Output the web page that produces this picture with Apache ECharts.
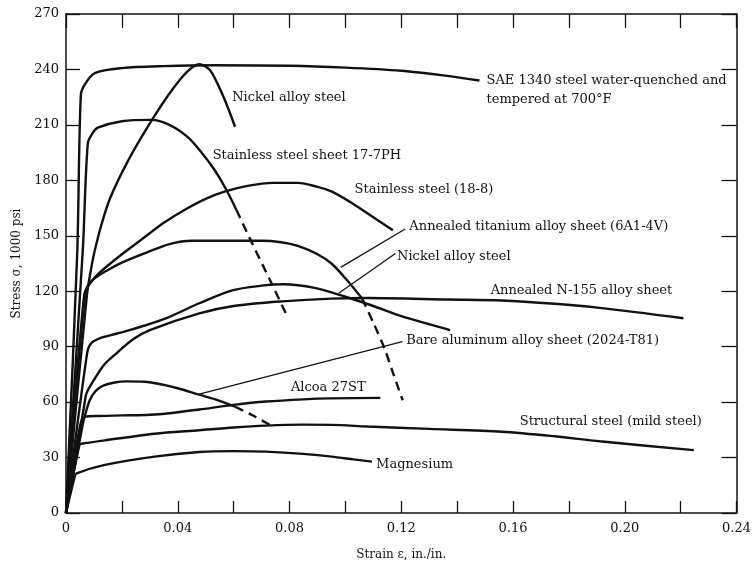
<!DOCTYPE html>
<html>
<head>
<meta charset="utf-8">
<script src="https://cdn.jsdelivr.net/npm/echarts@6/dist/echarts.min.js"></script>
<style>
html,body{margin:0;padding:0;background:#fff;}
#c{width:754px;height:566px;}
</style>
</head>
<body>
<div id="c"></div>
<script>
// ---- tick labels ----
const xTickLabels = ['0','','0.04','','0.08','','0.12','','0.16','','0.20','','0.24'];
const yTickLabels = ['0','30','60','90','120','150','180','210','240','270'];

// ---- series data [strain, stress(1000 psi)] ----
const sae1340 = [[0,0],[0.004,140],[0.0053,226],[0.0068,232],[0.0103,238],[0.02,240.7],[0.035,241.8],[0.053,242.3],[0.08,242],[0.1,241],[0.12,239.3],[0.135,236.8],[0.148,234]];
const nickelHigh = [[0,0],[0.0075,118],[0.0092,134],[0.0103,142],[0.0125,155],[0.0157,170],[0.022,190],[0.0305,212],[0.038,229],[0.0435,239],[0.0477,242.8],[0.0505,241],[0.0523,238],[0.0567,224],[0.0605,209]];
const ss177 = [[0,0],[0.006,142],[0.0078,200],[0.0095,205.5],[0.0114,208.5],[0.02,212],[0.0306,212.7],[0.037,210],[0.0435,203.5],[0.048,196],[0.053,186],[0.057,176],[0.061,164]];
const ss177Dash = [[0.061,164],[0.0666,146],[0.0727,127],[0.0787,108]];
const ss188 = [[0,0],[0.0065,118],[0.0085,124],[0.012,130],[0.02,140],[0.0275,148.5],[0.035,157],[0.043,164.5],[0.05,170],[0.057,174],[0.065,177],[0.074,178.6],[0.083,178.6],[0.09,176.5],[0.095,174],[0.102,168],[0.108,162],[0.112,158],[0.117,153]];
const titanium = [[0,0],[0.007,120],[0.0095,126],[0.015,131.5],[0.02,135.5],[0.029,141],[0.037,145.5],[0.045,147.3],[0.07,147.3],[0.077,146.5],[0.083,144.5],[0.09,140],[0.095,135],[0.1,127],[0.106,116]];
const titaniumDash = [[0.106,116],[0.11,103],[0.114,89],[0.117,76],[0.1205,61]];
const nickelLow = [[0,0],[0.0075,86],[0.0088,91.5],[0.012,94.5],[0.018,97],[0.024,99.5],[0.036,105.5],[0.0477,113.5],[0.0595,120.5],[0.07,123],[0.078,123.8],[0.089,121.8],[0.1,117],[0.11,112],[0.12,106.5],[0.1375,99]];
const n155 = [[0,0],[0.0065,58],[0.0074,65],[0.01,72],[0.0135,80],[0.017,85],[0.024,94],[0.03,99],[0.0477,108],[0.06,112],[0.0774,114.5],[0.095,116],[0.108,116.3],[0.137,115.5],[0.156,115],[0.175,113.2],[0.191,111],[0.221,105.4]];
const bareAl = [[0,0],[0.006,48],[0.0068,53],[0.0085,61],[0.0103,65.5],[0.013,68.7],[0.017,70.5],[0.0216,71.2],[0.028,71],[0.0335,69.8],[0.04,67.5],[0.0477,64],[0.0545,61],[0.0605,57.5]];
const bareAlDash = [[0.0605,57.5],[0.0666,53],[0.0737,47]];
const alcoa = [[0,0],[0.005,47],[0.0068,52],[0.012,52.5],[0.02,52.8],[0.03,53.2],[0.037,54],[0.0477,56],[0.06,58.5],[0.0716,60.3],[0.085,61.5],[0.095,62],[0.1125,62.3]];
const structural = [[0,0],[0.0048,37],[0.0056,37.5],[0.0139,39.3],[0.0317,42.9],[0.0477,44.8],[0.06,46.3],[0.0716,47.3],[0.085,47.8],[0.095,47.7],[0.108,46.8],[0.13,45.5],[0.156,44],[0.175,41.5],[0.191,38.8],[0.2247,34]];
const magnesium = [[0,0],[0.0032,20],[0.0038,21.5],[0.0139,26],[0.0317,30.5],[0.0477,33],[0.06,33.5],[0.0716,33.2],[0.085,32],[0.095,30.5],[0.103,29],[0.1095,27.8]];

// ---- leader lines (data coords) ----
const leaderTitanium = [[0.1214,153.7],[0.0983,132.9]];
const leaderNickelLow = [[0.1179,140.4],[0.0976,118.9]];
const leaderBareAl = [[0.1204,92.7],[0.0477,64.3]];

// ---- annotation texts and anchors (left edge, vertical middle) ----
const labelTexts = ['Nickel alloy steel','SAE 1340 steel water-quenched and\ntempered at 700°F','Stainless steel sheet 17-7PH','Stainless steel (18-8)','Annealed titanium alloy sheet (6A1-4V)','Nickel alloy steel','Annealed N-155 alloy sheet','Bare aluminum alloy sheet (2024-T81)','Alcoa 27ST','Structural steel (mild steel)','Magnesium'];
const labelAnchors = [[0.0595,225],[0.1505,229],[0.0525,193.4],[0.1033,175],[0.1229,154.8],[0.1185,138.7],[0.152,120.5],[0.1218,93.2],[0.0805,68],[0.1624,49.3],[0.111,26.2]];

const FONT = 'DejaVu Serif';
const INK = '#111';

function curve(data, dashed, leader) {
  const s = {
    type: 'line', data: data, showSymbol: false, symbol: 'none',
    smooth: 0.3, silent: true,
    lineStyle: { color: INK, width: 2.4, type: dashed ? [9, 6] : 'solid' },
    xAxisIndex: 0, yAxisIndex: 0
  };
  if (leader) {
    s.markLine = {
      silent: true, symbol: ['none','none'], animation: false,
      label: { show: false },
      lineStyle: { color: INK, width: 1.3, type: 'solid' },
      data: [[{ coord: leader[0] }, { coord: leader[1] }]]
    };
  }
  return s;
}

const chart = echarts.init(document.getElementById('c'), null, { renderer: 'canvas' });
const axisCommon = {
  type: 'value', splitLine: { show: false },
  axisLine: { show: true, onZero: false, lineStyle: { color: INK, width: 1.5 } }
};
chart.setOption({
  animation: false,
  backgroundColor: '#fff',
  grid: { left: 66, right: 14, top: 14, bottom: 51, containLabel: false },
  xAxis: [
    Object.assign({}, axisCommon, {
      min: 0, max: 0.24, interval: 0.02, position: 'bottom',
      axisTick: { show: true, inside: true, length: 12, lineStyle: { color: INK, width: 1.3 } },
      axisLabel: { show: true, margin: 9, color: INK, fontFamily: FONT, fontSize: 13,
        formatter: function (v) { return xTickLabels[Math.round(v / 0.02)] || ''; } },
      name: 'Strain ε, in./in.', nameLocation: 'middle', nameGap: 36,
      nameTextStyle: { color: INK, fontFamily: FONT, fontSize: 12 }
    }),
    Object.assign({}, axisCommon, {
      min: 0, max: 0.24, interval: 0.02, position: 'top',
      axisTick: { show: true, inside: true, length: 14, lineStyle: { color: INK, width: 1.3 } },
      axisLabel: { show: false }
    })
  ],
  yAxis: [
    Object.assign({}, axisCommon, {
      min: 0, max: 270, interval: 30, position: 'left',
      axisTick: { show: true, inside: true, length: 14, lineStyle: { color: INK, width: 1.3 } },
      axisLabel: { show: true, margin: 7, color: INK, fontFamily: FONT, fontSize: 13,
        formatter: function (v) { return yTickLabels[Math.round(v / 30)]; } },
      name: 'Stress σ, 1000 psi', nameLocation: 'middle', nameGap: 43, nameRotate: 90,
      nameTextStyle: { color: INK, fontFamily: FONT, fontSize: 12 }
    }),
    Object.assign({}, axisCommon, {
      min: 0, max: 270, interval: 30, position: 'right',
      axisTick: { show: true, inside: true, length: 15, lineStyle: { color: INK, width: 1.3 } },
      axisLabel: { show: false }
    })
  ],
  series: [
    curve(sae1340),
    curve(nickelHigh),
    curve(ss177),
    curve(ss177Dash, true),
    curve(ss188),
    curve(titanium, false, leaderTitanium),
    curve(titaniumDash, true),
    curve(nickelLow, false, leaderNickelLow),
    curve(n155),
    curve(bareAl, false, leaderBareAl),
    curve(bareAlDash, true),
    curve(alcoa),
    curve(structural),
    curve(magnesium)
  ]
});

const texts = labelTexts.map(function (t, i) {
  const p = chart.convertToPixel({ xAxisIndex: 0, yAxisIndex: 0 }, labelAnchors[i]);
  return {
    type: 'text', x: p[0], y: p[1], silent: true,
    style: { text: t, fill: INK, font: '13px "' + FONT + '"', textAlign: 'left', textVerticalAlign: 'middle', lineHeight: 19 }
  };
});
chart.setOption({ graphic: texts });
</script>
</body>
</html>
